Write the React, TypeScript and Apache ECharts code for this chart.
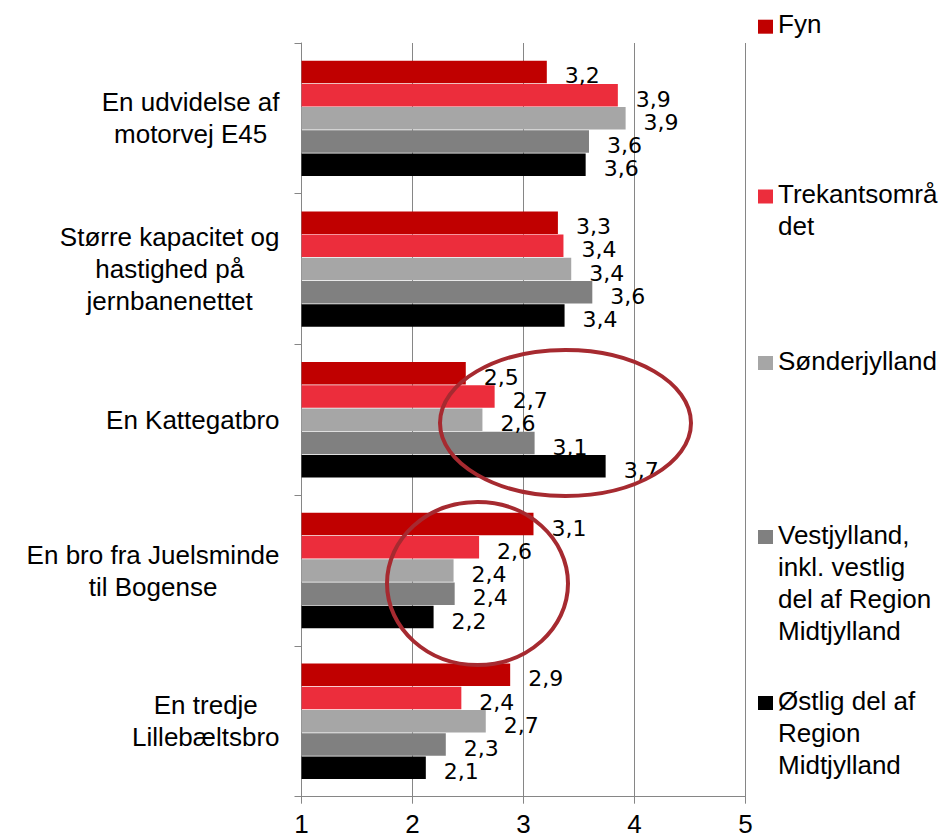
import React, { useEffect, useRef } from "react";
import * as echarts from "echarts";

const categories = [
  "En udvidelse af\nmotorvej E45",
  "Større kapacitet og\nhastighed på\njernbanenettet",
  "En Kattegatbro",
  "En bro fra Juelsminde\ntil Bogense",
  "En tredje\nLillebæltsbro",
];

const seriesNames = [
  "Fyn",
  "Trekantsområdet",
  "Sønderjylland",
  "Vestjylland, inkl. vestlig del af Region Midtjylland",
  "Østlig del af Region Midtjylland",
];

const legendLabels = [
  "Fyn",
  "Trekantsområ\ndet",
  "Sønderjylland",
  "Vestjylland,\ninkl. vestlig\ndel af Region\nMidtjylland",
  "Østlig del af\nRegion\nMidtjylland",
];

const fyn = [3.21, 3.31, 2.48, 3.09, 2.88];
const trekant = [3.85, 3.36, 2.74, 2.6, 2.44];
const sonderjylland = [3.92, 3.43, 2.63, 2.37, 2.66];
const vestjylland = [3.59, 3.62, 3.1, 2.38, 2.3];
const ostjylland = [3.56, 3.37, 3.74, 2.19, 2.12];

const seriesValues = [fyn, trekant, sonderjylland, vestjylland, ostjylland];
const colors = ["#C00000", "#EC2D3C", "#A6A6A6", "#808080", "#000000"];

const xTicks = [1, 2, 3, 4, 5];

const FONT = "'Liberation Sans', Arial, sans-serif";
const LH = 32;
const ICON_W = 15;
const ICON_H = 14;
const TEXT_RAISE = 2.5;
const legendIconCenters = [26.7, 196.5, 363, 537, 703];

export default function App() {
  const ref = useRef<HTMLDivElement>(null);
  useEffect(() => {
    if (!ref.current) return;
    const chart = echarts.init(ref.current, undefined, { renderer: "svg" });
    const axisColor = "#868686";
    const legends = seriesNames.map((name, i) => {
      const n = legendLabels[i].split("\n").length;
      const h = n * LH;
      const sqTop = LH / 2 + TEXT_RAISE - ICON_H / 2;
      const sqBot = sqTop + ICON_H;
      const iconPath = `path://M0,0 M0,${sqTop} L${ICON_W},${sqTop} L${ICON_W},${sqBot} L0,${sqBot} Z M${ICON_W},${h}`;
      return {
        data: [{ name, icon: iconPath }],
        orient: "vertical",
        left: 758,
        top: legendIconCenters[i] - (LH / 2 + TEXT_RAISE),
        padding: 0,
        itemGap: 0,
        itemWidth: ICON_W,
        itemHeight: h,
        selectedMode: false,
        formatter: () => legendLabels[i],
        textStyle: {
          fontFamily: FONT,
          fontSize: 26,
          color: "#000",
          lineHeight: LH,
        },
      };
    });
    chart.setOption({
      animation: false,
      backgroundColor: "#fff",
      grid: { left: 301.5, right: 198.5, top: 43, bottom: 42.3, containLabel: false },
      legend: legends,
      xAxis: {
        type: "value",
        min: xTicks[0],
        max: xTicks[xTicks.length - 1],
        interval: 1,
        axisLine: { show: true, lineStyle: { color: axisColor, width: 1 } },
        axisTick: { show: true, length: 7, lineStyle: { color: axisColor } },
        splitLine: { show: true, lineStyle: { color: axisColor, width: 1 } },
        axisLabel: {
          fontFamily: FONT,
          fontSize: 26,
          color: "#000",
          margin: 17,
          lineHeight: 20,
        },
      },
      yAxis: {
        type: "category",
        data: categories,
        inverse: true,
        axisLine: { show: true, lineStyle: { color: axisColor, width: 1 } },
        axisTick: { show: true, length: 7, lineStyle: { color: axisColor } },
        splitLine: { show: false },
        axisLabel: {
          margin: 22,
          formatter: (v: string) =>
            v
              .split("\n")
              .map((l) => `{c|${l}}`)
              .join("\n"),
          rich: {
            c: {
              align: "center",
              fontFamily: FONT,
              fontSize: 26,
              lineHeight: LH,
              color: "#000",
            },
          },
        },
      },
      series: seriesNames.map((name, i) => ({
        type: "bar",
        name,
        data: seriesValues[i],
        barWidth: 22.5,
        barGap: "3.3%",
        itemStyle: { color: colors[i] },
        label: {
          show: true,
          position: "right",
          distance: 18,
          offset: [0, 4],
          formatter: (p: any) => p.value.toFixed(1).replace(".", ","),
          fontFamily: "'DejaVu Sans', sans-serif",
          fontSize: 22,
          color: "#000",
        },
      })),
      graphic: [
        {
          type: "ellipse",
          z: 100,
          shape: { cx: 565.5, cy: 423, rx: 125.5, ry: 73 },
          style: { fill: "none", stroke: "#A62A30", lineWidth: 4 },
        },
        {
          type: "ellipse",
          z: 100,
          shape: { cx: 477.5, cy: 583.5, rx: 90.5, ry: 81.5 },
          style: { fill: "none", stroke: "#A62A30", lineWidth: 4 },
        },
      ],
    });
    return () => chart.dispose();
  }, []);
  return (
    <div
      ref={ref}
      style={{ position: "fixed", left: 0, top: 0, width: 944, height: 839 }}
    />
  );
}
